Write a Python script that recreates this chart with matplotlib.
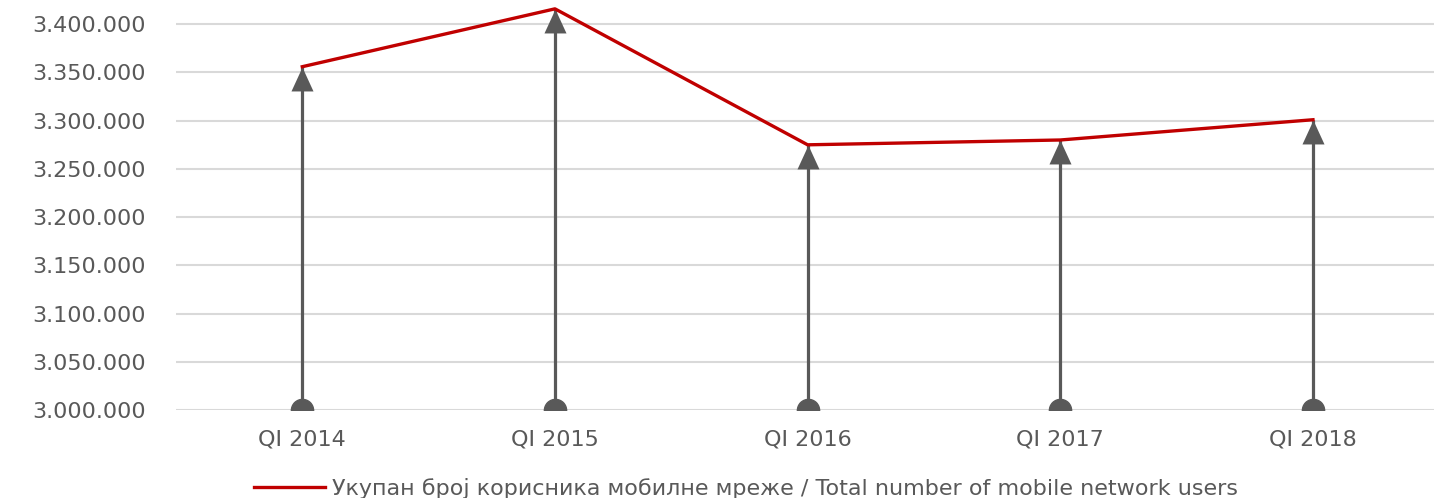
import matplotlib.pyplot as plt
import matplotlib.ticker as mticker
import numpy as np

# Podaci: ukupan broj korisnika mobilne mreže
periodi = ['QI 2014', 'QI 2015', 'QI 2016', 'QI 2017', 'QI 2018']
korisnici = [3356000, 3416000, 3275000, 3280000, 3301000]
baza = 3000000

siva = '#595959'
crvena = '#c00000'

fig = plt.figure(figsize=(14.34, 4.98), dpi=100)
ax = fig.add_axes([0.1227, 0.1767, 0.8810, 0.8133])

x = np.arange(len(periodi))

# strelice: stub + vrh trokuta tačno na vrijednosti
ax.vlines(x, baza, korisnici, color=siva, lw=2.3, zorder=3)
vrh = [(0, 0), (-0.46, -1), (0.46, -1)]
ax.plot(x, korisnici, ls='none', marker=vrh, ms=34.5, color=siva, mew=0, zorder=3)
ax.plot(x, [baza] * len(x), 'o', ms=16, color=siva, clip_on=True, zorder=3)

ax.plot(x, korisnici, color=crvena, lw=2.4, zorder=4,
        label='Укупан број корисника мобилне мреже / Total number of mobile network users')

ax.set_xlim(-0.5, 4.5)
ax.set_ylim(3000000, 3420000)
ax.set_yticks(np.arange(3000000, 3400001, 50000))
ax.yaxis.set_major_formatter(mticker.FuncFormatter(lambda v, p: f'{int(v):,}'.replace(',', '.')))
ax.set_xticks(x)
ax.set_xticklabels(periodi)

ax.grid(axis='y', color='#d9d9d9', lw=1.5)
ax.set_axisbelow(True)
for s in ax.spines.values():
    s.set_visible(False)
ax.tick_params(length=0, labelsize=16, colors=siva, pad=22)
ax.tick_params(axis='x', pad=14)

fig.legend(loc='center', bbox_to_anchor=(0.52, 0.02), frameon=False, fontsize=16,
           labelcolor=siva, handlelength=3.2, handletextpad=0.3)

plt.savefig('out.png', dpi=100)
